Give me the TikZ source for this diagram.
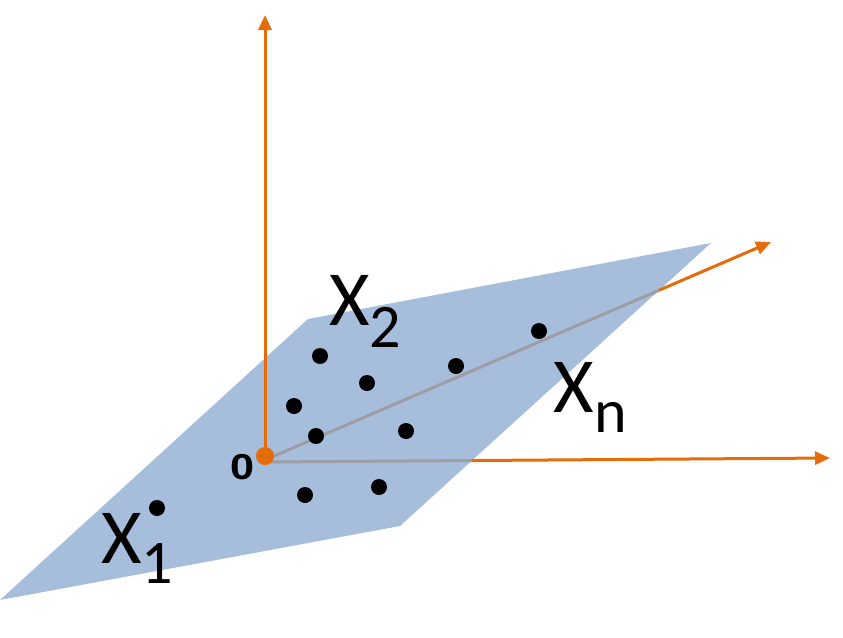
\documentclass[tikz,border=0pt]{standalone}
\usepackage{fontspec}
\setmainfont{Carlito}[Numbers=Lining]
\newfontfamily\zerofont{Liberation Sans}
\usetikzlibrary{arrows.meta,calc}
\definecolor{planeblue}{HTML}{A6BDDC}
\definecolor{axisorange}{HTML}{E46C0A}
\definecolor{axisgrey}{HTML}{9E9DA3}
\tikzset{
  axis/.style={draw=axisorange,line width=3pt},
  axistip/.style={axis,-{Triangle[length=15pt,width=13pt]}},
  hidden/.style={draw=axisgrey,line width=3pt},
  pt/.style={circle,fill=black,inner sep=0pt,minimum size=16pt},
  bigx/.style={inner sep=0pt,anchor=base,font=\fontsize{78}{78}\selectfont},
  subx/.style={inner sep=0pt,anchor=base,font=\fontsize{62}{62}\selectfont},
}
\begin{document}
\begin{tikzpicture}[x=1pt,y=-1pt]
\useasboundingbox (0,0) rectangle (843,637);
% plane
\coordinate (PA) at (0,600);
\coordinate (PB) at (308,319);
\coordinate (PC) at (711,243);
\coordinate (PD) at (400,526);
\fill[planeblue] (PA) -- (PB) -- (PC) -- (PD) -- cycle;
% axes
\coordinate (O) at (265,460);
\coordinate (Oh) at (265,462);
\coordinate (TU) at (265,15);
\coordinate (TD) at (771,242);
\coordinate (TH) at (830,458);
\coordinate (ED) at (intersection of O--TD and PC--PD);
\coordinate (EH) at (intersection of Oh--TH and PC--PD);
\draw[hidden] (O) -- (ED);
\draw[axistip] (ED) -- (TD);
\draw[hidden] (Oh) -- (EH);
\draw[axistip] (EH) -- (TH);
\draw[axistip] (O) -- (TU);
\node[circle,fill=axisorange,inner sep=0pt,minimum size=18pt] (orig) at (265,456) {};
\node[inner sep=0pt,anchor=base,font=\zerofont\bfseries\fontsize{36}{36}\selectfont] (zero) at (242.5,479) {\scalebox{1.2}[1]{0}};
% points
\node[pt] (p1) at (320,356) {};
\node[pt] (p2) at (367,383) {};
\node[pt] (p3) at (294,406) {};
\node[pt] (p4) at (316,436) {};
\node[pt] (p5) at (406,431) {};
\node[pt] (p6) at (456,366) {};
\node[pt] (p7) at (539,331) {};
\node[pt] (p8) at (305,495) {};
\node[pt] (p9) at (379,487) {};
\node[pt] (p10) at (157,508) {};
% labels
\node[bigx] (x2) at (349.5,325) {X};
\node[subx] (s2) at (385.5,347) {2};
\node[bigx] (xn) at (574,412) {X};
\node[subx] (sn) at (611,432) {n};
\node[bigx] (x1) at (122,563) {X};
\node[subx] (s1) at (157,583) {1};
\end{tikzpicture}
\end{document}
